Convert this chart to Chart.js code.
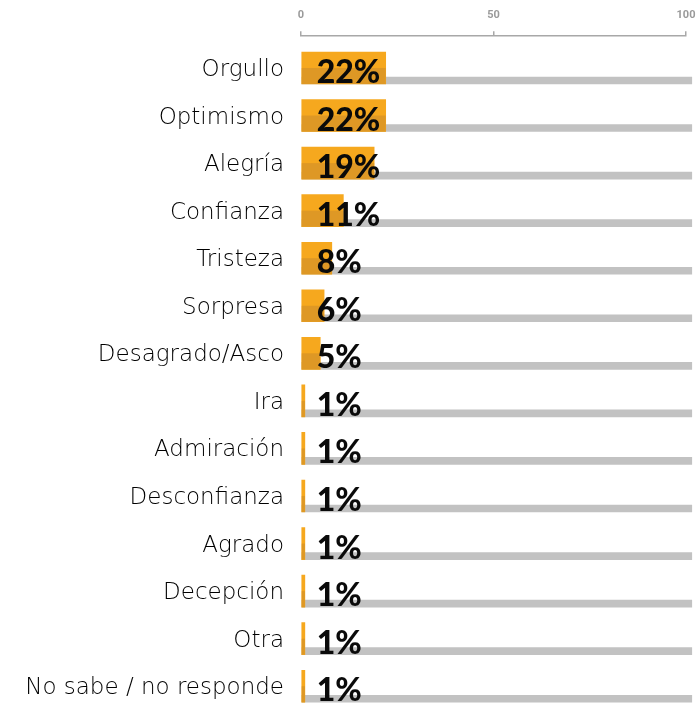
<!DOCTYPE html>
<html>
<head>
<meta charset="utf-8">
<script src="https://cdn.jsdelivr.net/npm/chart.js@4.4.1/dist/chart.umd.min.js"></script>
<style>
  html, body { margin: 0; padding: 0; background: #fff; overflow: hidden; }
  #wrap { width: 698px; height: 705px; position: relative; }
</style>
</head>
<body>
<div id="wrap"><canvas id="emociones"></canvas></div>
<script>
// datos
const categories = ['Orgullo', 'Optimismo', 'Alegría', 'Confianza', 'Tristeza', 'Sorpresa',
  'Desagrado/Asco', 'Ira', 'Admiración', 'Desconfianza', 'Agrado', 'Decepción', 'Otra',
  'No sabe / no responde'];
const shares = [22, 22, 19, 11, 8, 6, 5, 1, 1, 1, 1, 1, 1, 1];
const trackEnd = categories.map(() => 101.5);
const xTicks = [0, 50, 100];

const LIGHT = '#F6A81E';
const DARK = '#DE9825';
const ROW_SHIFT = 8;   // gap between top axis line and first row

// orange bars = dataset 0 (drawn last, on top), grey track = dataset 1
const rowPlugin = {
  id: 'rows',
  beforeDatasetDraw(chart, args) {
    const ctx = chart.ctx;
    ctx.save();
    let dy = ROW_SHIFT;
    if (args.index === 1) {
      // grey track sits on the bottom edge of the orange bar
      const bar = chart.getDatasetMeta(0).data[0];
      const trk = args.meta.data[0];
      dy += (bar.height - trk.height) / 2;
    }
    ctx.translate(0, dy);
  },
  afterDatasetDraw(chart, args) {
    const ctx = chart.ctx;
    if (args.index === 0) {
      args.meta.data.forEach(el => {
        ctx.fillStyle = DARK;
        ctx.fillRect(el.base, el.y, el.x - el.base, el.height / 2);
      });
      ctx.fillStyle = '#0A0A0A';
      ctx.font = '900 32px Lato';
      ctx.textAlign = 'left';
      ctx.textBaseline = 'alphabetic';
      args.meta.data.forEach((el, i) => {
        ctx.fillText(shares[i] + '%', el.base + 15, el.y + el.height / 2 - 1);
      });
    }
    ctx.restore();
  }
};

new Chart(document.getElementById('emociones'), {
  type: 'bar',
  data: {
    labels: categories,
    datasets: [
      {
        data: shares,
        backgroundColor: LIGHT,
        barThickness: 32,
        grouped: false
      },
      {
        data: trackEnd,
        backgroundColor: '#C2C2C2',
        barThickness: 7,
        grouped: false,
        clip: false
      }
    ]
  },
  options: {
    indexAxis: 'y',
    responsive: true,
    maintainAspectRatio: false,
    animation: false,
    layout: { padding: { top: 0, right: 12, bottom: 3, left: 0 } },
    plugins: { legend: { display: false }, tooltip: { enabled: false } },
    scales: {
      x: {
        position: 'top',
        min: 0,
        max: 100,
        afterBuildTicks: s => { s.ticks = xTicks.map(v => ({ value: v })); },
        afterFit: s => { s.paddingLeft = 0; s.paddingRight = 0; },
        grid: { drawOnChartArea: false, drawTicks: true, tickLength: 5, color: '#A8A8A8', lineWidth: 1.5 },
        border: { display: true, color: '#A8A8A8', width: 1.5 },
        ticks: {
          color: '#9A9A9A',
          padding: 9,
          maxRotation: 0,
          font: { family: 'Roboto', weight: 'bold', size: 11 }
        }
      },
      y: {
        afterFit: s => { s.width = 301; s.paddingTop = 0; s.paddingBottom = 0; },
        grid: { display: false, drawTicks: false },
        border: { display: false },
        ticks: {
          color: '#000',
          padding: 17,
          labelOffset: ROW_SHIFT + 2,
          font: { family: 'DejaVu Sans', size: 23, weight: '300' }
        }
      }
    }
  },
  plugins: [rowPlugin]
});
</script>
</body>
</html>
